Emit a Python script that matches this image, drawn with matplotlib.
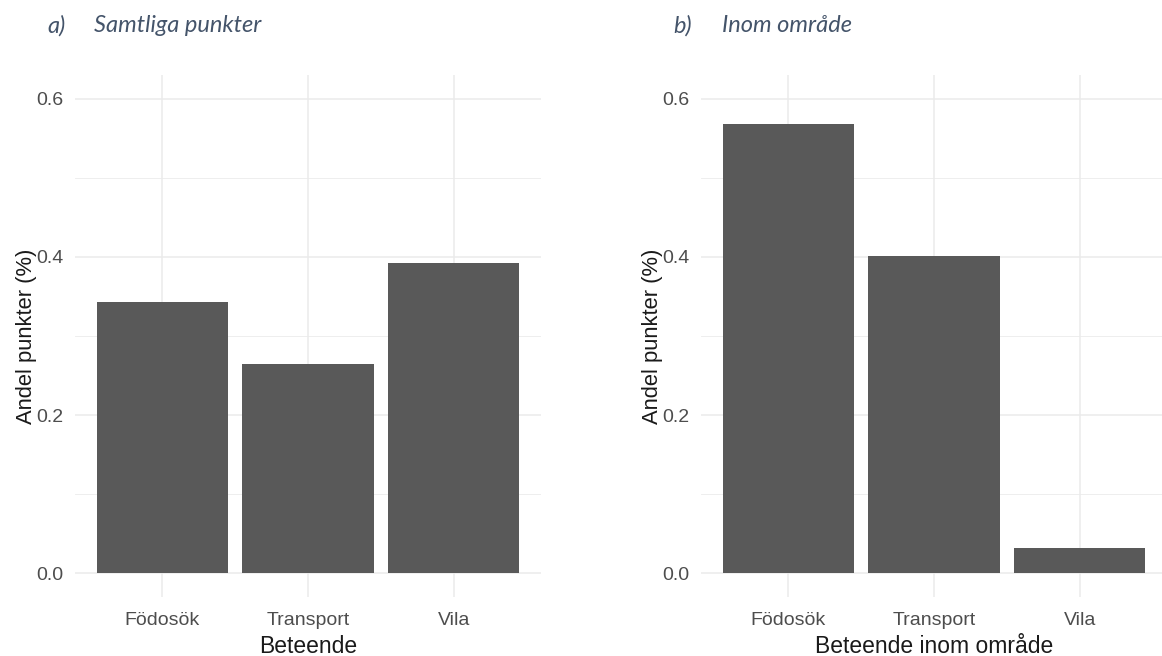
import matplotlib.pyplot as plt
import numpy as np

# Andel punkter per beteende
kategorier = ["Födosök", "Transport", "Vila"]
samtliga = [0.343, 0.265, 0.392]
inom_omrade = [0.568, 0.401, 0.032]

W, H = 1162, 656
fig = plt.figure(figsize=(W / 100, H / 100), dpi=100)

bar_farg = "#595959"
grid_farg = "#EBEBEB"
text_farg = "#4D4D4D"
rubrik_farg = "#44546A"


def panel(left_px, data, xlabel):
    ax = fig.add_axes([left_px / W, 1 - 597 / H, 466 / W, 522 / H])
    x = np.arange(len(kategorier))
    ax.bar(x, data, width=0.9, color=bar_farg, zorder=3)
    ax.set_xlim(-0.6, 2.6)
    ax.set_ylim(-0.03, 0.63)
    ax.set_xticks(x)
    ax.set_xticklabels(kategorier)
    ax.set_yticks([0.0, 0.2, 0.4, 0.6])
    ax.set_yticklabels(["0.0", "0.2", "0.4", "0.6"])
    ax.set_yticks([0.1, 0.3, 0.5], minor=True)
    ax.grid(True, which="major", color=grid_farg, linewidth=1.1, zorder=0)
    ax.grid(True, which="minor", axis="y", color=grid_farg, linewidth=0.6, zorder=0)
    for s in ax.spines.values():
        s.set_visible(False)
    ax.tick_params(which="both", length=0, colors=text_farg, labelsize=14)
    ax.tick_params(axis="y", pad=8.5)
    ax.tick_params(axis="x", pad=11)
    for lab in ax.get_xticklabels() + ax.get_yticklabels():
        lab.set_fontfamily("Liberation Sans")
    ax.set_xlabel(xlabel, fontsize=16.5, family="Liberation Sans", color="#1A1A1A", labelpad=4)
    ax.set_ylabel("Andel punkter (%)", fontsize=15.8, family="Liberation Sans", color="#1A1A1A", labelpad=-0.5)
    return ax


panel(75, samtliga, "Beteende")
panel(701, inom_omrade, "Beteende inom område")

# Delrubriker
rub = dict(fontsize=17, style="italic", family="Lato", color=rubrik_farg, va="center")
fig.text(47 / W, 1 - 26 / H, "a)", **rub)
fig.text(94 / W, 1 - 26 / H, "Samtliga punkter", **rub)
fig.text(673 / W, 1 - 26 / H, "b)", **rub)
fig.text(722 / W, 1 - 26 / H, "Inom område", **rub)

fig.savefig("out.png", dpi=100)
